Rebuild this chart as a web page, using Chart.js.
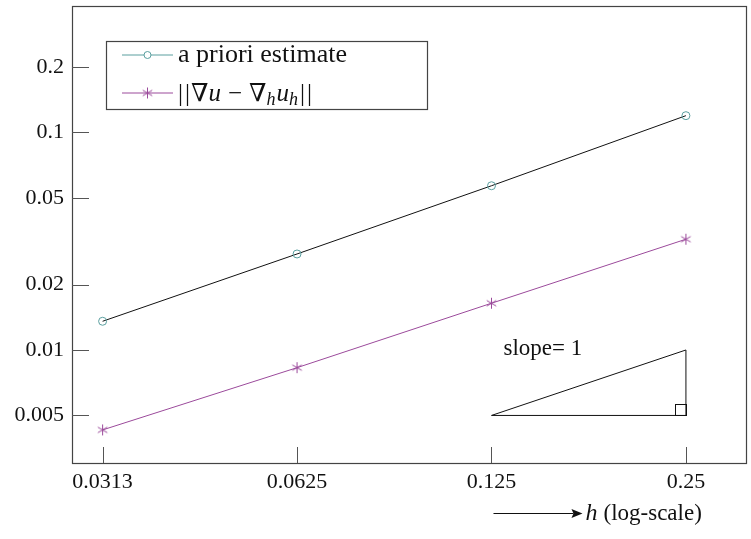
<!DOCTYPE html>
<html>
<head>
<meta charset="utf-8">
<script src="https://cdn.jsdelivr.net/npm/chart.js@4"></script>
<style>
  html, body { margin: 0; padding: 0; background: #fff; }
  #wrap { width: 751px; height: 539px; }
</style>
</head>
<body>
<div id="wrap"><canvas id="convChart" width="751" height="539"></canvas></div>
<script>
"use strict";

// values
const hValues = [0.03125, 0.0625, 0.125, 0.25];
const hTickLabels = ['0.0313', '0.0625', '0.125', '0.25'];
const aPrioriEstimate = [0.01355, 0.02763, 0.0569, 0.1195];
const gradientError = [0.00429, 0.00829, 0.0164, 0.0323];
const yTicks = [0.005, 0.01, 0.02, 0.05, 0.1, 0.2];
const yTickLabels = ['0.005', '0.01', '0.02', '0.05', '0.1', '0.2'];
const slopeX = [0.125, 0.25, 0.25, 0.125];
const slopeY = [0.005, 0.005, 0.01, 0.005];

const TEAL = '#5a9f9f';
const PURPLE = '#9b4a9b';
const SERIF = "'Liberation Serif', 'DejaVu Serif', serif";

function asterisk(color, r) {
    const c = document.createElement('canvas');
    const s = Math.ceil(r * 2 + 2);
    c.width = s; c.height = s;
    const g = c.getContext('2d');
    g.strokeStyle = color;
    g.lineWidth = 1;
    g.beginPath();
    for (let k = 0; k < 3; k++) {
        const a = Math.PI / 2 + k * Math.PI / 3;
        g.moveTo(s / 2 + r * Math.cos(a), s / 2 + r * Math.sin(a));
        g.lineTo(s / 2 - r * Math.cos(a), s / 2 - r * Math.sin(a));
    }
    g.stroke();
    return c;
}

const starMark = asterisk(PURPLE, 5.5);

function toPoints(xs, ys) {
    return xs.map((x, i) => ({ x: x, y: ys[i] }));
}

function drawMath(ctx, parts, x, y) {
    parts.forEach(p => {
        ctx.font = p.font;
        ctx.fillText(p.t, x, y + (p.dy || 0));
        x += ctx.measureText(p.t).width + (p.gap || 0);
    });
}

const decorPlugin = {
    id: 'decor',
    afterDraw(chart) {
        const ctx = chart.ctx;
        const a = chart.chartArea;
        const xs = chart.scales.x;
        const ys = chart.scales.y;
        ctx.save();

        // frame
        ctx.strokeStyle = '#444';
        ctx.lineWidth = 1.2;
        ctx.strokeRect(Math.round(a.left) + 0.5, Math.round(a.top) + 0.5,
            Math.round(a.right - a.left), Math.round(a.bottom - a.top));

        // inward ticks
        ctx.strokeStyle = '#555';
        ctx.lineWidth = 1;
        ctx.beginPath();
        hValues.forEach(v => {
            const px = Math.round(xs.getPixelForValue(v)) + 0.5;
            ctx.moveTo(px, a.bottom);
            ctx.lineTo(px, a.bottom - 16);
        });
        yTicks.forEach(v => {
            const py = Math.round(ys.getPixelForValue(v)) + 0.5;
            ctx.moveTo(a.left, py);
            ctx.lineTo(a.left + 17, py);
        });
        ctx.stroke();

        // right angle mark of the slope triangle
        const cx = Math.round(xs.getPixelForValue(0.25)) + 0.5;
        const cy = Math.round(ys.getPixelForValue(0.005)) + 0.5;
        ctx.strokeStyle = '#111';
        ctx.strokeRect(cx - 11, cy - 11, 11, 11);

        // slope label
        ctx.fillStyle = '#111';
        ctx.textBaseline = 'alphabetic';
        ctx.font = '23px ' + SERIF;
        ctx.fillText('slope= 1', xs.getPixelForValue(0.125) + 12, ys.getPixelForValue(0.01) + 5);

        // legend box
        const lx = a.left + 34, ly = a.top + 35;
        ctx.fillStyle = '#fff';
        ctx.fillRect(lx, ly, 321, 68);
        ctx.strokeStyle = '#444';
        ctx.lineWidth = 1.2;
        ctx.strokeRect(lx + 0.5, ly + 0.5, 321, 68);

        const rows = [ly + 14, ly + 52];
        ctx.lineWidth = 1;
        ctx.strokeStyle = TEAL;
        ctx.beginPath();
        ctx.moveTo(lx + 16, rows[0]);
        ctx.lineTo(lx + 67, rows[0]);
        ctx.stroke();
        ctx.beginPath();
        ctx.arc(lx + 41.5, rows[0], 3.5, 0, Math.PI * 2);
        ctx.fillStyle = '#fff';
        ctx.fill();
        ctx.stroke();

        ctx.strokeStyle = PURPLE;
        ctx.beginPath();
        ctx.moveTo(lx + 16, rows[1]);
        ctx.lineTo(lx + 67, rows[1]);
        ctx.stroke();
        ctx.drawImage(starMark, lx + 41.5 - starMark.width / 2, rows[1] - starMark.height / 2);

        ctx.fillStyle = '#111';
        ctx.font = '26px ' + SERIF;
        ctx.fillText('a priori estimate', lx + 72, rows[0] + 7);
        const up = '25px ' + SERIF;
        const it = 'italic 25px ' + SERIF;
        const sub = 'italic 18px ' + SERIF;
        drawMath(ctx, [
            { t: '|', font: up, gap: 2 },
            { t: '|', font: up, gap: 1 },
            { t: '\u2207', font: up },
            { t: 'u', font: it, gap: 7 },
            { t: '\u2212', font: up, gap: 7 },
            { t: '\u2207', font: up },
            { t: 'h', font: sub, dy: 4, gap: 1 },
            { t: 'u', font: it },
            { t: 'h', font: sub, dy: 4, gap: 2 },
            { t: '|', font: up, gap: 2 },
            { t: '|', font: up }
        ], lx + 72, rows[1] + 8);

        // x axis label with arrow
        const ax0 = xs.getPixelForValue(0.125) + 2;
        const ay = 513.5;
        ctx.strokeStyle = '#111';
        ctx.lineWidth = 1.2;
        ctx.beginPath();
        ctx.moveTo(ax0, ay);
        ctx.lineTo(ax0 + 80, ay);
        ctx.stroke();
        ctx.beginPath();
        ctx.moveTo(ax0 + 89, ay);
        ctx.lineTo(ax0 + 78, ay - 4.5);
        ctx.lineTo(ax0 + 80, ay);
        ctx.lineTo(ax0 + 78, ay + 4.5);
        ctx.closePath();
        ctx.fillStyle = '#111';
        ctx.fill();
        drawMath(ctx, [
            { t: 'h', font: 'italic 24px ' + SERIF, gap: 6 },
            { t: '(log-scale)', font: '23px ' + SERIF }
        ], ax0 + 92, 520);

        ctx.restore();
    }
};

document.addEventListener('DOMContentLoaded', function () {
    const canvas = document.getElementById('convChart');
    Chart.defaults.font.family = SERIF;
    Chart.defaults.font.size = 22;
    Chart.defaults.color = '#111';

    new Chart(canvas, {
        type: 'line',
        data: {
            datasets: [{
                label: 'slope',
                data: toPoints(slopeX, slopeY),
                borderColor: '#111',
                borderWidth: 1,
                pointRadius: 0,
                tension: 0
            }, {
                label: 'a priori estimate',
                data: toPoints(hValues, aPrioriEstimate),
                borderColor: '#111',
                borderWidth: 1,
                pointStyle: 'circle',
                pointRadius: 4,
                pointBorderColor: TEAL,
                pointBackgroundColor: 'rgba(255,255,255,0)',
                pointBorderWidth: 1,
                tension: 0
            }, {
                label: '||\u2207u \u2212 \u2207hu_h||',
                data: toPoints(hValues, gradientError),
                borderColor: PURPLE,
                borderWidth: 1,
                pointStyle: starMark,
                pointBorderColor: PURPLE,
                tension: 0
            }]
        },
        options: {
            responsive: false,
            animation: false,
            clip: false,
            layout: { padding: { left: 0, top: 6, right: 2, bottom: 0 } },
            plugins: {
                legend: { display: false },
                tooltip: { enabled: false }
            },
            scales: {
                x: {
                    type: 'logarithmic',
                    position: 'bottom',
                    min: 0.02802,
                    max: 0.3097,
                    grid: { display: false, drawTicks: false },
                    border: { display: false },
                    afterBuildTicks: scale => {
                        scale.ticks = hValues.map(v => ({ value: v }));
                    },
                    afterFit: scale => {
                        scale.height = 76;
                        scale.paddingLeft = 0;
                        scale.paddingRight = 0;
                    },
                    ticks: {
                        padding: 6,
                        autoSkip: false,
                        maxRotation: 0,
                        callback: value => hTickLabels[hValues.indexOf(value)]
                    }
                },
                y: {
                    type: 'logarithmic',
                    min: 0.003022,
                    max: 0.3816,
                    grid: { display: false, drawTicks: false },
                    border: { display: false },
                    afterBuildTicks: scale => {
                        scale.ticks = yTicks.map(v => ({ value: v }));
                    },
                    afterFit: scale => {
                        scale.width = 72;
                        scale.paddingTop = 0;
                        scale.paddingBottom = 0;
                    },
                    ticks: {
                        padding: 8,
                        autoSkip: false,
                        callback: value => yTickLabels[yTicks.indexOf(value)]
                    }
                }
            }
        },
        plugins: [decorPlugin]
    });
});
</script>
</body>
</html>
